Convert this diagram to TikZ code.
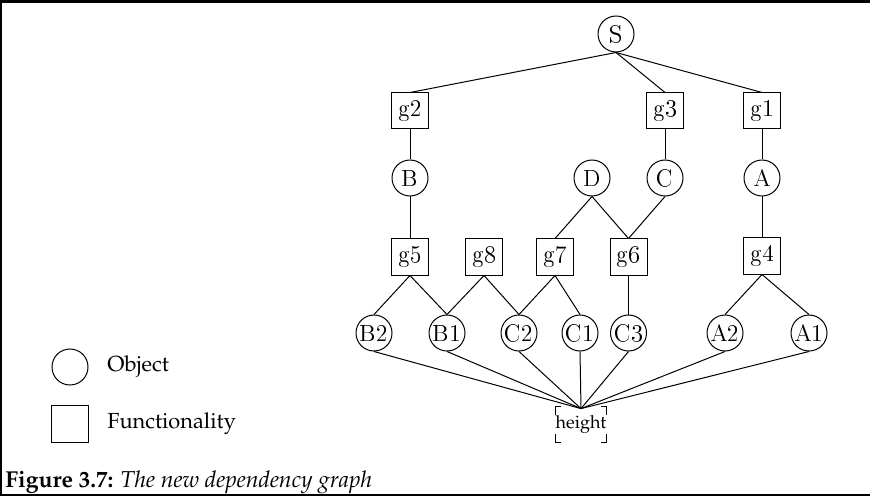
\documentclass[tikz,border=0pt]{standalone}
\usepackage[T1]{fontenc}
\usepackage{mathpazo}
\newcommand{\graphfont}{\fontfamily{lmr}\fontsize{12.2}{14}\selectfont}
\begin{document}
\begin{tikzpicture}[x=0.5pt,y=-0.5pt,
  every node/.style={font=\fontsize{10.9}{13}\selectfont},
  obj/.style={circle,draw,line width=0.5pt,minimum size=18pt,inner sep=0pt,font=\graphfont},
  fun/.style={rectangle,draw,line width=0.5pt,minimum width=18.5pt,minimum height=18pt,inner sep=0pt,font=\graphfont},
  edge/.style={line width=0.5pt},
  label/.style={anchor=west,inner sep=0pt}]
\useasboundingbox (0,0) rectangle (870,496);
% frame
\draw[line width=1.5pt] (0,1.5) -- (870,1.5);
\draw[line width=1.25pt] (1.2,0) -- (1.2,496);
\draw[line width=0.75pt] (0,495.2) -- (870,495.2);

% top level
\node[obj] (S) at (616,34) {S};
\node[fun] (g2) at (410,111) {g2};
\node[fun] (g3) at (665,111) {g3};
\node[fun] (g1) at (762,111) {g1};
% objects
\node[obj] (B) at (410,178) {B};
\node[obj] (D) at (592,178) {D};
\node[obj] (C) at (665,178) {C};
\node[obj] (A) at (762,178) {A};
% functionalities
\node[fun] (g5) at (410,257) {g5};
\node[fun] (g8) at (484,257) {g8};
\node[fun] (g7) at (555,257) {g7};
\node[fun] (g6) at (628.5,257) {g6};
\node[fun] (g4) at (762,256) {g4};
% leaf objects
\node[obj] (B2) at (374,333) {B2};
\node[obj] (B1) at (447,333) {B1};
\node[obj] (C2) at (519,333) {C2};
\node[obj] (C1) at (580,333) {C1};
\node[obj] (C3) at (628.5,333) {C3};
\node[obj] (A2) at (725,333) {A2};
\node[obj] (A1) at (809,333) {A1};
% height attribute with corner brackets
\node[minimum width=19pt,minimum height=17.5pt,inner sep=0pt,font=\fontsize{9}{11}\selectfont] (h) at (581,424.5) {height};
\draw[line width=0.5pt] (h.north west) ++(0,8) -- (h.north west) -- ++(6,0);
\draw[line width=0.5pt] (h.north east) ++(0,8) -- (h.north east) -- ++(-6,0);
\draw[line width=0.5pt] (h.south west) ++(0,-8) -- (h.south west) -- ++(6,0);
\draw[line width=0.5pt] (h.south east) ++(0,-8) -- (h.south east) -- ++(-6,0);

% connectors
\draw[edge] (S.south) -- (g2.north);
\draw[edge] (S.south) -- (g3.north);
\draw[edge] (S.south) -- (g1.north);
\draw[edge] (g2) -- (B);
\draw[edge] (g3) -- (C);
\draw[edge] (g1) -- (A);
\draw[edge] (B) -- (g5);
\draw[edge] (A.south) -- (g4.north);
\draw[edge] (D.south) -- (g7.north);
\draw[edge] (D.south) -- (g6.north);
\draw[edge] (C.south) -- (g6.north);
\draw[edge] (g5.south) -- (B2.north);
\draw[edge] (g5.south) -- (B1.north);
\draw[edge] (g8.south) -- (B1.north);
\draw[edge] (g8.south) -- (C2.north);
\draw[edge] (g7.south) -- (C2.north);
\draw[edge] (g7.south) -- (C1.north);
\draw[edge] (g6.south) -- (C3.north);
\draw[edge] (g4.south) -- (A2.north);
\draw[edge] (g4.south) -- (A1.north);
\foreach \n in {B2,B1,C2,C1,C3,A2,A1}
  \draw[edge] (\n.south) -- ([yshift=-1pt]h.north);

% legend
\node[obj] (lo) at (70,367) {};
\node[label] (lot) at (107,367) {Object};
\node[fun,minimum width=18.5pt,minimum height=18.5pt] (lf) at (70,424) {};
\node[label] (lft) at (107,424) {Functionality};

% caption
\node[anchor=base west,inner sep=0pt,font=\fontsize{11.5}{13}\selectfont] (cap) at (5,487)
  {\textbf{Figure 3.7:} \textit{The new dependency graph}};
\end{tikzpicture}
\end{document}
